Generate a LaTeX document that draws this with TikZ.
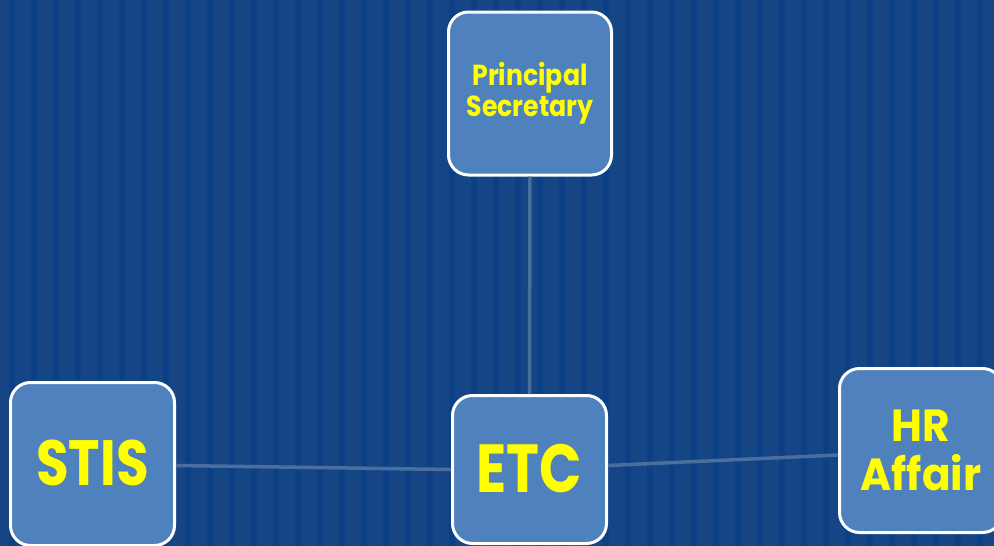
\documentclass[tikz,border=0pt]{standalone}
\usepackage{fontspec}
\setmainfont{Poppins}[BoldFont={* Bold}]
\newfontfamily\fontPS{Poppins}[UprightFont={* Bold}, FakeStretch=0.87]
\newfontfamily\fontSTIS{Poppins}[UprightFont={* Bold}, FakeStretch=0.83]
\newfontfamily\fontETC{Poppins}[UprightFont={* Bold}, FakeStretch=0.82]
\newfontfamily\fontHR{Poppins}[UprightFont={* Bold}, FakeStretch=0.94]
\definecolor{bgbase}{RGB}{21,69,133}
\definecolor{bgstripe}{RGB}{11,64,134}
\definecolor{boxfill}{RGB}{79,129,189}
\definecolor{linkcol}{RGB}{74,110,158}
\definecolor{txtyellow}{RGB}{255,255,0}
\begin{document}
\begin{tikzpicture}[x=1pt,y=-1pt,
  unit/.style={draw=white, line width=3pt, fill=boxfill, rounded corners=20pt,
    text=txtyellow, align=center, inner sep=0pt},
  link/.style={draw=linkcol, line width=3.5pt}]
\useasboundingbox (0,0) rectangle (994,546);
\fill[bgbase] (0,0) rectangle (994,546);
\foreach \i in {0,...,45} {
  \fill[bgstripe] ({9+22*\i},0) rectangle ({15+22*\i},546);
}
\node[unit, minimum width=163pt, minimum height=163pt,
  font=\fontPS\fontsize{29}{31}\selectfont] (ps) at (530,93.5) {Principal\\Secretary};
\node[unit, minimum width=164pt, minimum height=163pt,
  font=\fontSTIS\fontsize{64}{70}\selectfont] (stis) at (92.5,464) {\raisebox{3pt}{STIS}};
\node[unit, minimum width=154pt, minimum height=148pt,
  font=\fontETC\fontsize{68}{70}\selectfont] (etc) at (529.5,469.5) {\raisebox{3pt}{ETC}};
\node[unit, minimum width=163pt, minimum height=164pt,
  font=\fontHR\fontsize{45}{49}\selectfont] (hr) at (921,450.5) {HR\\Affair};
\draw[link] (ps.south) -- (etc.north);
\draw[link] ([yshift=-1.5pt]stis.east) -- (etc.west);
\draw[link] ([yshift=4pt]etc.east) -- ([yshift=-4.5pt]hr.west);
\end{tikzpicture}
\end{document}
